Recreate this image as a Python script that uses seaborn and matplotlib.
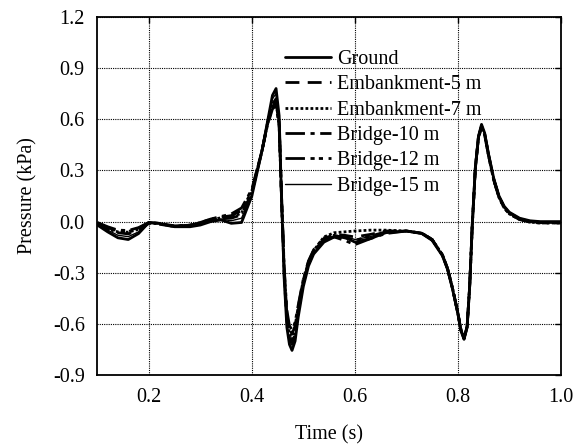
import matplotlib
matplotlib.use("Agg")
import matplotlib.pyplot as plt
import seaborn as sns
import numpy as np

sns.set_theme(style="white")
plt.rcParams["font.family"] = ["Liberation Serif", "DejaVu Serif"]
plt.rcParams["mathtext.fontset"] = "stix"

# Sampling instants (s)
time_s = [0.10, 0.12, 0.14, 0.16, 0.18, 0.20, 0.22, 0.25, 0.28, 0.30,
          0.32, 0.34, 0.36, 0.38, 0.40, 0.42, 0.43, 0.44, 0.447, 0.453,
          0.458, 0.463, 0.468, 0.473, 0.478, 0.484, 0.49, 0.50, 0.51, 0.52,
          0.54, 0.56, 0.58, 0.60, 0.63, 0.66, 0.70, 0.73, 0.75, 0.77,
          0.78, 0.79, 0.80, 0.806, 0.812, 0.818, 0.823, 0.828, 0.834, 0.840,
          0.846, 0.852, 0.86, 0.87, 0.88, 0.89, 0.90, 0.92, 0.94, 0.96,
          0.98, 1.00]

# Pressure (kPa) for each case
ground = [-0.020, -0.060, -0.095, -0.105, -0.070, -0.005, -0.010, -0.030, -0.030, -0.020,
          0.000, 0.010, -0.010, -0.005, 0.150, 0.420, 0.580, 0.740, 0.780, 0.620,
          0.100, -0.350, -0.620, -0.720, -0.755, -0.700, -0.560, -0.380, -0.260, -0.190,
          -0.120, -0.090, -0.090, -0.120, -0.100, -0.065, -0.055, -0.070, -0.110, -0.200,
          -0.280, -0.400, -0.540, -0.640, -0.690, -0.620, -0.380, -0.020, 0.320, 0.500,
          0.570, 0.520, 0.390, 0.250, 0.150, 0.090, 0.055, 0.020, 0.005, 0.000,
          0.000, 0.000]

emb5 = [-0.010, -0.040, -0.065, -0.072, -0.050, -0.010, -0.015, -0.030, -0.025, -0.010,
        0.010, 0.020, 0.020, 0.040, 0.170, 0.420, 0.570, 0.690, 0.720, 0.580,
        0.100, -0.330, -0.580, -0.680, -0.710, -0.660, -0.530, -0.360, -0.250, -0.180,
        -0.100, -0.075, -0.080, -0.090, -0.075, -0.055, -0.055, -0.068, -0.105, -0.195,
        -0.275, -0.395, -0.535, -0.635, -0.685, -0.615, -0.375, -0.020, 0.315, 0.495,
        0.560, 0.515, 0.385, 0.245, 0.145, 0.085, 0.050, 0.015, 0.000, -0.005,
        -0.005, -0.005]

emb7 = [-0.015, -0.045, -0.060, -0.062, -0.045, -0.008, -0.012, -0.028, -0.022, -0.008,
        0.012, 0.022, 0.025, 0.050, 0.175, 0.420, 0.570, 0.680, 0.700, 0.570,
        0.110, -0.310, -0.560, -0.660, -0.690, -0.640, -0.520, -0.350, -0.240, -0.170,
        -0.090, -0.065, -0.060, -0.055, -0.050, -0.050, -0.055, -0.068, -0.105, -0.195,
        -0.275, -0.395, -0.535, -0.635, -0.685, -0.615, -0.375, -0.020, 0.310, 0.490,
        0.555, 0.510, 0.380, 0.240, 0.140, 0.080, 0.045, 0.012, -0.003, -0.008,
        -0.008, -0.008]

bridge10 = [-0.005, -0.030, -0.050, -0.052, -0.035, -0.005, -0.010, -0.025, -0.020, -0.005,
            0.015, 0.030, 0.045, 0.080, 0.190, 0.420, 0.560, 0.660, 0.680, 0.560,
            0.120, -0.290, -0.540, -0.630, -0.660, -0.610, -0.500, -0.340, -0.235, -0.170,
            -0.105, -0.090, -0.110, -0.135, -0.100, -0.070, -0.055, -0.068, -0.105, -0.195,
            -0.275, -0.395, -0.535, -0.635, -0.685, -0.615, -0.375, -0.020, 0.315, 0.495,
            0.560, 0.515, 0.385, 0.245, 0.145, 0.085, 0.050, 0.015, 0.000, -0.005,
            -0.005, -0.005]

bridge12 = [-0.008, -0.035, -0.055, -0.058, -0.040, -0.006, -0.011, -0.026, -0.021, -0.006,
            0.014, 0.026, 0.035, 0.065, 0.180, 0.420, 0.565, 0.675, 0.700, 0.565,
            0.120, -0.280, -0.520, -0.610, -0.635, -0.590, -0.490, -0.335, -0.230, -0.165,
            -0.095, -0.080, -0.095, -0.110, -0.085, -0.060, -0.055, -0.068, -0.105, -0.195,
            -0.275, -0.395, -0.535, -0.635, -0.685, -0.615, -0.375, -0.020, 0.310, 0.490,
            0.555, 0.510, 0.380, 0.240, 0.140, 0.080, 0.045, 0.012, -0.003, -0.008,
            -0.008, -0.008]

bridge15 = [-0.012, -0.050, -0.080, -0.088, -0.060, -0.008, -0.012, -0.030, -0.027, -0.015,
            0.005, 0.015, 0.005, 0.020, 0.160, 0.420, 0.575, 0.720, 0.750, 0.600,
            0.100, -0.340, -0.600, -0.700, -0.725, -0.680, -0.545, -0.370, -0.255, -0.185,
            -0.110, -0.082, -0.085, -0.105, -0.088, -0.060, -0.055, -0.070, -0.110, -0.200,
            -0.280, -0.400, -0.540, -0.640, -0.690, -0.620, -0.380, -0.020, 0.320, 0.500,
            0.565, 0.520, 0.390, 0.250, 0.150, 0.090, 0.055, 0.020, 0.005, 0.000,
            0.000, 0.000]

labels = ["Ground", "Embankment-5 m", "Embankment-7 m",
          "Bridge-10 m", "Bridge-12 m", "Bridge-15 m"]
series = [ground, emb5, emb7, bridge10, bridge12, bridge15]
styles = ["-", (0, (5, 3)), (0, (1, 0.8)), (0, (7, 2, 1.5, 2)),
          (0, (7, 2, 1.5, 1.5, 1.5, 2)), "-"]
widths = [2.0, 2.0, 2.0, 2.0, 2.0, 1.0]

fig = plt.figure(figsize=(5.83, 4.44), dpi=100)
ax = fig.add_axes([0.167, 0.155, 0.795, 0.807])

for lab, vals, ls, lw in zip(labels, series, styles, widths):
    sns.lineplot(x=time_s, y=vals, ax=ax, color="black", linestyle=ls,
                 linewidth=lw, label=lab, sort=False, estimator=None)

ax.set_xlim(0.1, 1.0)
ax.set_ylim(-0.9, 1.2)
ax.set_xticks([0.2, 0.4, 0.6, 0.8, 1.0])
ax.set_xticklabels(["0.2", "0.4", "0.6", "0.8", "1.0"])
yt = [-0.9, -0.6, -0.3, 0.0, 0.3, 0.6, 0.9, 1.2]
ax.set_yticks(yt)
ax.set_yticklabels([f"{v:.1f}" for v in yt])

ax.grid(True, color="black", linestyle=(0, (1, 1)), linewidth=0.8)
for sp in ax.spines.values():
    sp.set_color("black")
    sp.set_linewidth(1.3)
ax.tick_params(direction="in", length=4, width=1.0, colors="black",
               labelsize=14.5, top=True, right=True, pad=9)

ax.set_xlabel("Time (s)", fontsize=14.5, color="black", labelpad=13)
ax.set_ylabel("Pressure (kPa)", fontsize=14.5, color="black", labelpad=11)

leg = ax.legend(loc="upper left", bbox_to_anchor=(0.405, 0.908), frameon=False,
                fontsize=14.5, handlelength=2.3, handletextpad=0.3,
                labelspacing=0.31, borderpad=0, borderaxespad=0)
for t in leg.get_texts():
    t.set_color("black")

fig.savefig("out.png", dpi=100)
